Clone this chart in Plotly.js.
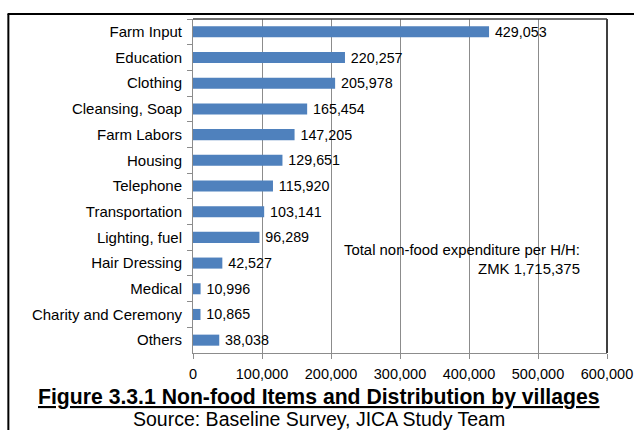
<!DOCTYPE html>
<html><head><meta charset="utf-8">
<script src="https://cdn.plot.ly/plotly-3.0.1.min.js"></script>
<style>html,body{margin:0;padding:0;background:#fff;}#c{width:634px;height:430px;}</style>
</head><body><div id="c"></div>
<script>
var categories = ["Farm Input","Education","Clothing","Cleansing, Soap","Farm Labors","Housing","Telephone","Transportation","Lighting, fuel","Hair Dressing","Medical","Charity and Ceremony","Others"];
var values = [429053,220257,205978,165454,147205,129651,115920,103141,96289,42527,10996,10865,38038];
var xTicks = [0,100000,200000,300000,400000,500000,600000];
var xTickLabels = ["0","100,000","200,000","300,000","400,000","500,000","600,000"];
var figTitle = "Figure 3.3.1 Non-food Items and Distribution by villages";
var sourceText = "Source: Baseline Survey, JICA Study Team";
var noteLines = ["Total non-food expenditure per H/H:", "ZMK 1,715,375"];

var font = "Liberation Sans, Arial, sans-serif";
var trace = {
  type: "bar", orientation: "h",
  y: categories, x: values,
  marker: {color: "#4F81BD"},
  text: values.map(function(v){return "\u2009" + v.toLocaleString("en-US");}),
  textposition: "outside", cliponaxis: false, constraintext: "none",
  textfont: {family: font, size: 14.3, color: "#000"},
  hoverinfo: "none"
};
var layout = {
  width: 634, height: 430,
  margin: {l: 193, r: 27, t: 19, b: 77},
  paper_bgcolor: "#fff", plot_bgcolor: "#fff",
  showlegend: false,
  bargap: 0.57,
  font: {family: font, color: "#000"},
  xaxis: {
    range: [0, 600000], tickvals: xTicks, ticktext: xTickLabels,
    showgrid: true, gridcolor: "#8c8c8c", gridwidth: 1,
    zeroline: false, showline: true, linecolor: "#8c8c8c", linewidth: 1,
    ticks: "outside", ticklen: 5, tickcolor: "#8c8c8c", ticklabelstandoff: 3,
    tickfont: {family: font, size: 14.5, color: "#000"}, fixedrange: true
  },
  yaxis: {
    type: "category", autorange: "reversed",
    showgrid: false, zeroline: false, showline: true, linecolor: "#8c8c8c", linewidth: 1,
    ticks: "outside", tickson: "boundaries", ticklen: 5, tickcolor: "#8c8c8c",
    tickfont: {family: font, size: 15, color: "#000"}, ticklabelstandoff: 7, fixedrange: true
  },
  shapes: [
    {type: "line", xref: "paper", yref: "paper", x0: 0, x1: 1, y0: 1, y1: 1, line: {color: "#404040", width: 1.5}},
    {type: "line", xref: "paper", yref: "paper", x0: 1, x1: 1, y0: 0, y1: 1, line: {color: "#404040", width: 2}},
    {type: "line", xref: "paper", yref: "paper", x0: -0.448, x1: 1.2, y0: 1.015, y1: 1.015, line: {color: "#000", width: 2}},
    {type: "line", xref: "paper", yref: "paper", x0: -0.446, x1: -0.446, y0: 1.015, y1: -0.4, line: {color: "#000", width: 2}}
  ],
  annotations: [
    {xref: "paper", yref: "paper", x: 0.94, y: 0.28, xanchor: "right", yanchor: "middle", align: "right",
     text: noteLines.join("<br>"), showarrow: false, font: {family: font, size: 14.9, color: "#000"}},
    {xref: "paper", yref: "paper", x: (319-193)/414, y: (353-397)/334, xanchor: "center", yanchor: "middle",
     text: "<b><u>" + figTitle + "</u></b>", showarrow: false, font: {family: font, size: 21.2, color: "#000"}},
    {xref: "paper", yref: "paper", x: (319-193)/414, y: (353-419)/334, xanchor: "center", yanchor: "middle",
     text: sourceText, showarrow: false, font: {family: font, size: 19.5, color: "#000"}}
  ]
};
Plotly.newPlot("c", [trace], layout, {staticPlot: true, displayModeBar: false});
</script></body></html>
